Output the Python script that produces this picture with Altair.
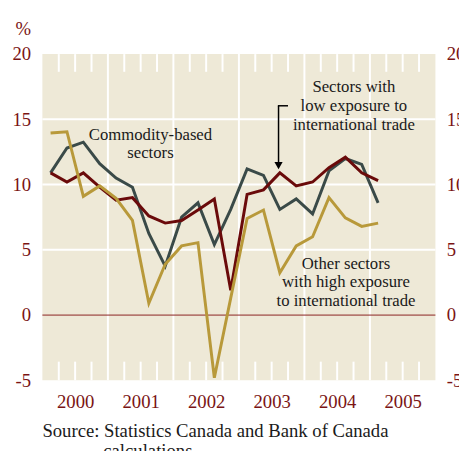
import altair as alt
import pandas as pd

# ---- data -------------------------------------------------------------
years = [2000, 2001, 2002, 2003, 2004, 2005]
quarter_labels = [f"{y}Q{q}" for y in range(2000, 2006) for q in range(1, 5)][:21]

low_exposure = [10.9, 10.2, 10.9, 9.8, 8.8, 9.0, 7.6, 7.05, 7.25, 8.05, 8.9,
                1.9, 9.25, 9.6, 10.9, 9.9, 10.2, 11.3, 12.1, 10.9, 10.3]
commodity = [10.9, 12.8, 13.25, 11.6, 10.5, 9.8, 6.25, 3.75, 7.5, 8.6, 5.4,
             8.1, 11.2, 10.7, 8.1, 8.9, 7.75, 11.05, 12.0, 11.55, 8.6]
other_high = [13.95, 14.05, 9.1, 9.9, 8.95, 7.25, 0.9, 3.9, 5.3, 5.55, -4.8,
              1.3, 7.4, 8.05, 3.25, 5.3, 6.0, 9.0, 7.45, 6.8, 7.05]

y_ticks = [-5, 0, 5, 10, 15, 20]
grid_values = [5, 10, 15]

series_names = ["Commodity-based", "Low exposure", "Other high exposure"]
series_colors = ["#3a4a48", "#6a0a0a", "#b8993a"]

# ---- derived tables ----------------------------------------------------
def qpos(label):
    y, q = int(label[:4]), int(label[-1])
    return y + (q - 0.5) / 4

rows = []
for name, vals in zip(series_names, [commodity, low_exposure, other_high]):
    for lab, v in zip(quarter_labels, vals):
        rows.append({"t": qpos(lab), "value": v, "series": name})
df = pd.DataFrame(rows)

year_bounds = pd.DataFrame({"t": years[1:]})
minor = pd.DataFrame({"t": [y + q / 4 for y in years for q in (1, 2, 3)]})
grid_df = pd.DataFrame({"v": grid_values})
one = pd.DataFrame({"a": [0]})

W, H = 400, 332
MAROON = "#7a1414"
FONT = "Liberation Serif"
Y_LABEL = "datum.value < 0 ? '-' + abs(datum.value) : '' + datum.value"

xscale = alt.Scale(domain=[2000, 2006], nice=False, zero=False)
yscale = alt.Scale(domain=[-5, 20], nice=False, zero=False)
color = alt.Color("series:N", scale=alt.Scale(domain=series_names, range=series_colors), legend=None)

base_axis = dict(domain=False, ticks=False, grid=False, labelFlush=False, labelOverlap=False,
                 labelColor=MAROON, labelFont=FONT, labelFontSize=19)

hgrid = alt.Chart(grid_df).mark_rule(color="white", strokeWidth=2).encode(
    y=alt.Y("v:Q", scale=yscale, axis=alt.Axis(values=y_ticks, orient="right", labelPadding=11,
                                                 labelAlign="left", labelExpr=Y_LABEL,
                                                 title=None, **base_axis)))

vgrid = alt.Chart(year_bounds).mark_rule(color="white", strokeWidth=2).encode(
    x=alt.X("t:Q", scale=xscale, axis=None), y=alt.value(0), y2=alt.value(H))

minor_top = alt.Chart(minor).mark_rule(color="white", strokeWidth=2).encode(
    x=alt.X("t:Q", scale=xscale, axis=None), y=alt.value(0), y2=alt.value(18))
minor_bot = alt.Chart(minor).mark_rule(color="white", strokeWidth=2).encode(
    x=alt.X("t:Q", scale=xscale, axis=None), y=alt.value(H - 19), y2=alt.value(H))

zero = alt.Chart(pd.DataFrame({"v": [0]})).mark_rule(color="#8a2020", strokeWidth=1).encode(
    y=alt.Y("v:Q", scale=yscale, axis=None))

def line_layer(name, with_axes=False):
    if with_axes:
        xenc = alt.X("t:Q", scale=xscale, axis=alt.Axis(
            values=[y + 0.5 for y in years], labelExpr="'' + floor(datum.value)",
            labelPadding=13, title=None, **base_axis))
        yenc = alt.Y("value:Q", scale=yscale, axis=alt.Axis(
            values=y_ticks, orient="left", labelPadding=12, labelExpr=Y_LABEL,
            title="%", titleAngle=0,
            titleX=-20, titleY=-26, titleAlign="center", titleBaseline="middle",
            titleColor=MAROON, titleFont=FONT, titleFontSize=19, titleFontWeight="normal",
            **base_axis))
    else:
        xenc = alt.X("t:Q", scale=xscale, axis=None)
        yenc = alt.Y("value:Q", scale=yscale, axis=None)
    return alt.Chart(df).transform_filter(alt.datum.series == name).mark_line(
        strokeWidth=3, strokeJoin="miter").encode(x=xenc, y=yenc, color=color)

lines = [line_layer(series_names[0], True), line_layer(series_names[1]), line_layer(series_names[2])]

def txt(s, x, y, align="center", size=17):
    return alt.Chart(one).mark_text(
        text=s, font=FONT, fontSize=size, color="#1a1a1a", align=align, baseline="middle").encode(
        x=alt.value(x), y=alt.value(y))

texts = [
    txt("Commodity-based", 110, 82), txt("sectors", 110, 101),
    txt("Sectors with", 317, 34), txt("low exposure to", 317, 53), txt("international trade", 317, 72),
    txt("Other sectors", 309, 214), txt("with high exposure", 309, 232),
    txt("to international trade", 309, 251),
    txt("Source: Statistics Canada and Bank of Canada", 0, 384, align="left", size=19),
    txt("calculations", 62, 404, align="left", size=19),
]

arrow_v = alt.Chart(one).mark_rule(color="black", strokeWidth=1.5).encode(
    x=alt.XDatum(2003.605, scale=xscale, axis=None),
    y=alt.YDatum(16.04, scale=yscale, axis=None), y2=alt.datum(11.7))
arrow_h = alt.Chart(one).mark_rule(color="black", strokeWidth=1.5).encode(
    x=alt.XDatum(2003.595, scale=xscale, axis=None), x2=alt.datum(2003.75),
    y=alt.YDatum(16.04, scale=yscale, axis=None))
arrow_head = alt.Chart(one).mark_point(
    shape="triangle-down", filled=True, color="black", size=70, opacity=1).encode(
    x=alt.XDatum(2003.605, scale=xscale, axis=None),
    y=alt.YDatum(11.45, scale=yscale, axis=None))

chart = alt.layer(hgrid, vgrid, minor_top, minor_bot, zero, *lines, arrow_v, arrow_h, arrow_head,
                  *texts).resolve_axis(y="independent", x="independent").properties(
    width=W, height=H,
    autosize=alt.AutoSizeParams(type="none"),
    padding={"left": 35, "top": 43, "right": 24, "bottom": 68},
    background="white",
).configure_view(fill="#eee9d7", stroke=None)

chart.save("out.html", embed_options={"renderer": "svg", "actions": False})
